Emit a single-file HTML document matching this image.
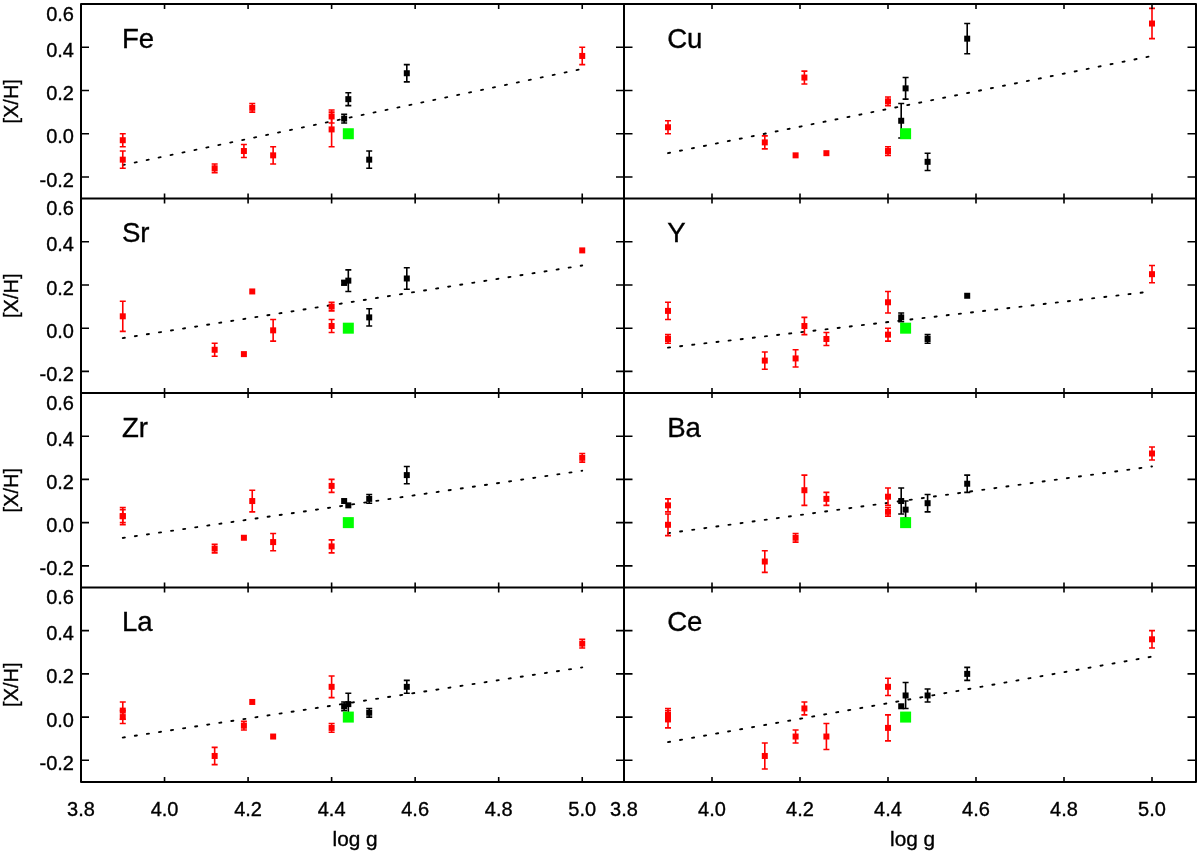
<!DOCTYPE html>
<html><head><meta charset="utf-8"><style>
html,body{margin:0;padding:0;background:#fff;width:1200px;height:854px;overflow:hidden}
svg{display:block;will-change:transform}
text{font-family:"Liberation Sans",sans-serif;fill:#000;stroke:#000;stroke-width:0.35px}
.l{font-size:20px}
.t{font-size:27.6px}
</style></head><body>
<svg width="1200" height="854" viewBox="0 0 1200 854">
<rect width="1200" height="854" fill="#fff"/>
<line x1="122.77" y1="165.06" x2="582.23" y2="68.92" stroke="#000" stroke-width="1.9" stroke-linecap="round" stroke-dasharray="2.1 10.1"/>
<path d="M122.77 133.73V146.7M119.77 133.73h6M119.77 146.7h6" stroke="#f00" stroke-width="1.6" fill="none"/><rect x="119.77" y="137.21" width="6" height="6" fill="#f00"/>
<path d="M122.77 151.02V168.3M119.77 151.02h6M119.77 168.3h6" stroke="#f00" stroke-width="1.6" fill="none"/><rect x="119.77" y="156.66" width="6" height="6" fill="#f00"/>
<path d="M214.66 163.98V172.62M211.66 163.98h6M211.66 172.62h6" stroke="#f00" stroke-width="1.6" fill="none"/><rect x="211.66" y="165.3" width="6" height="6" fill="#f00"/>
<path d="M243.9 144.54V157.5M240.9 144.54h6M240.9 157.5h6" stroke="#f00" stroke-width="1.6" fill="none"/><rect x="240.9" y="148.02" width="6" height="6" fill="#f00"/>
<path d="M252.25 103.49V112.13M249.25 103.49h6M249.25 112.13h6" stroke="#f00" stroke-width="1.6" fill="none"/><rect x="249.25" y="104.81" width="6" height="6" fill="#f00"/>
<path d="M273.14 146.7V163.98M270.14 146.7h6M270.14 163.98h6" stroke="#f00" stroke-width="1.6" fill="none"/><rect x="270.14" y="152.34" width="6" height="6" fill="#f00"/>
<path d="M331.62 109.97V122.93M328.62 109.97h6M328.62 122.93h6" stroke="#f00" stroke-width="1.6" fill="none"/><rect x="328.62" y="113.45" width="6" height="6" fill="#f00"/>
<path d="M331.62 112.13V146.7M328.62 112.13h6M328.62 146.7h6" stroke="#f00" stroke-width="1.6" fill="none"/><rect x="328.62" y="126.41" width="6" height="6" fill="#f00"/>
<path d="M582.23 47.31V64.6M579.23 47.31h6M579.23 64.6h6" stroke="#f00" stroke-width="1.6" fill="none"/><rect x="579.23" y="52.95" width="6" height="6" fill="#f00"/>
<path d="M344.15 114.29V122.93M341.15 114.29h6M341.15 122.93h6" stroke="#000" stroke-width="1.6" fill="none"/><rect x="341.15" y="115.61" width="6" height="6" fill="#000"/>
<path d="M348.32 92.68V105.65M345.32 92.68h6M345.32 105.65h6" stroke="#000" stroke-width="1.6" fill="none"/><rect x="345.32" y="96.16" width="6" height="6" fill="#000"/>
<path d="M369.21 151.02V168.3M366.21 151.02h6M366.21 168.3h6" stroke="#000" stroke-width="1.6" fill="none"/><rect x="366.21" y="156.66" width="6" height="6" fill="#000"/>
<path d="M406.8 64.6V81.88M403.8 64.6h6M403.8 81.88h6" stroke="#000" stroke-width="1.6" fill="none"/><rect x="403.8" y="70.24" width="6" height="6" fill="#000"/>
<rect x="342.82" y="128.23" width="11" height="11" fill="#0f0"/>
<text x="121.97" y="47.9" class="t">Fe</text>
<line x1="668" y1="153.18" x2="1152" y2="55.95" stroke="#000" stroke-width="1.9" stroke-linecap="round" stroke-dasharray="2.1 10.1"/>
<path d="M668 120.77V133.73M665 120.77h6M665 133.73h6" stroke="#f00" stroke-width="1.6" fill="none"/><rect x="665" y="124.25" width="6" height="6" fill="#f00"/>
<path d="M764.8 135.89V148.86M761.8 135.89h6M761.8 148.86h6" stroke="#f00" stroke-width="1.6" fill="none"/><rect x="761.8" y="139.38" width="6" height="6" fill="#f00"/>
<rect x="792.6" y="152.34" width="6" height="6" fill="#f00"/>
<path d="M804.4 71.08V84.04M801.4 71.08h6M801.4 84.04h6" stroke="#f00" stroke-width="1.6" fill="none"/><rect x="801.4" y="74.56" width="6" height="6" fill="#f00"/>
<rect x="823.4" y="150.18" width="6" height="6" fill="#f00"/>
<path d="M888 97V105.65M885 97h6M885 105.65h6" stroke="#f00" stroke-width="1.6" fill="none"/><rect x="885" y="98.32" width="6" height="6" fill="#f00"/>
<path d="M888 146.7V155.34M885 146.7h6M885 155.34h6" stroke="#f00" stroke-width="1.6" fill="none"/><rect x="885" y="148.02" width="6" height="6" fill="#f00"/>
<path d="M1152 8.42V38.67M1149 8.42h6M1149 38.67h6" stroke="#f00" stroke-width="1.6" fill="none"/><rect x="1149" y="20.54" width="6" height="6" fill="#f00"/>
<path d="M901.2 103.49V138.05M898.2 103.49h6M898.2 138.05h6" stroke="#000" stroke-width="1.6" fill="none"/><rect x="898.2" y="117.77" width="6" height="6" fill="#000"/>
<path d="M905.6 77.56V99.16M902.6 77.56h6M902.6 99.16h6" stroke="#000" stroke-width="1.6" fill="none"/><rect x="902.6" y="85.36" width="6" height="6" fill="#000"/>
<path d="M927.6 153.18V170.46M924.6 153.18h6M924.6 170.46h6" stroke="#000" stroke-width="1.6" fill="none"/><rect x="924.6" y="158.82" width="6" height="6" fill="#000"/>
<path d="M967.2 23.54V53.79M964.2 23.54h6M964.2 53.79h6" stroke="#000" stroke-width="1.6" fill="none"/><rect x="964.2" y="35.67" width="6" height="6" fill="#000"/>
<rect x="900.1" y="128.23" width="11" height="11" fill="#0f0"/>
<text x="667.2" y="47.9" class="t">Cu</text>
<line x1="122.77" y1="338.12" x2="582.23" y2="265.53" stroke="#000" stroke-width="1.9" stroke-linecap="round" stroke-dasharray="2.1 10.1"/>
<path d="M122.77 301.18V331.42M119.77 301.18h6M119.77 331.42h6" stroke="#f00" stroke-width="1.6" fill="none"/><rect x="119.77" y="313.3" width="6" height="6" fill="#f00"/>
<path d="M214.66 343.31V356.27M211.66 343.31h6M211.66 356.27h6" stroke="#f00" stroke-width="1.6" fill="none"/><rect x="211.66" y="346.79" width="6" height="6" fill="#f00"/>
<rect x="240.9" y="351.11" width="6" height="6" fill="#f00"/>
<rect x="249.25" y="288.45" width="6" height="6" fill="#f00"/>
<path d="M273.14 319.54V341.15M270.14 319.54h6M270.14 341.15h6" stroke="#f00" stroke-width="1.6" fill="none"/><rect x="270.14" y="327.34" width="6" height="6" fill="#f00"/>
<path d="M331.62 302.26V310.9M328.62 302.26h6M328.62 310.9h6" stroke="#f00" stroke-width="1.6" fill="none"/><rect x="328.62" y="303.58" width="6" height="6" fill="#f00"/>
<path d="M331.62 319.54V332.5M328.62 319.54h6M328.62 332.5h6" stroke="#f00" stroke-width="1.6" fill="none"/><rect x="328.62" y="323.02" width="6" height="6" fill="#f00"/>
<rect x="579.23" y="247.4" width="6" height="6" fill="#f00"/>
<path d="M344.15 280.65V284.97M341.15 280.65h6M341.15 284.97h6" stroke="#000" stroke-width="1.6" fill="none"/><rect x="341.15" y="279.81" width="6" height="6" fill="#000"/>
<path d="M348.32 269.85V291.45M345.32 269.85h6M345.32 291.45h6" stroke="#000" stroke-width="1.6" fill="none"/><rect x="345.32" y="277.65" width="6" height="6" fill="#000"/>
<path d="M369.21 308.74V326.02M366.21 308.74h6M366.21 326.02h6" stroke="#000" stroke-width="1.6" fill="none"/><rect x="366.21" y="314.38" width="6" height="6" fill="#000"/>
<path d="M406.8 267.69V289.29M403.8 267.69h6M403.8 289.29h6" stroke="#000" stroke-width="1.6" fill="none"/><rect x="403.8" y="275.49" width="6" height="6" fill="#000"/>
<rect x="342.82" y="322.68" width="11" height="11" fill="#0f0"/>
<text x="121.97" y="242.35" class="t">Sr</text>
<line x1="668" y1="347.63" x2="1152" y2="291.45" stroke="#000" stroke-width="1.9" stroke-linecap="round" stroke-dasharray="2.1 10.1"/>
<path d="M668 302.26V319.54M665 302.26h6M665 319.54h6" stroke="#f00" stroke-width="1.6" fill="none"/><rect x="665" y="307.9" width="6" height="6" fill="#f00"/>
<path d="M668 334.66V343.31M665 334.66h6M665 343.31h6" stroke="#f00" stroke-width="1.6" fill="none"/><rect x="665" y="335.99" width="6" height="6" fill="#f00"/>
<path d="M764.8 351.95V369.23M761.8 351.95h6M761.8 369.23h6" stroke="#f00" stroke-width="1.6" fill="none"/><rect x="761.8" y="357.59" width="6" height="6" fill="#f00"/>
<path d="M795.6 349.79V367.07M792.6 349.79h6M792.6 367.07h6" stroke="#f00" stroke-width="1.6" fill="none"/><rect x="792.6" y="355.43" width="6" height="6" fill="#f00"/>
<path d="M804.4 317.38V334.67M801.4 317.38h6M801.4 334.67h6" stroke="#f00" stroke-width="1.6" fill="none"/><rect x="801.4" y="323.02" width="6" height="6" fill="#f00"/>
<path d="M826.4 332.5V345.47M823.4 332.5h6M823.4 345.47h6" stroke="#f00" stroke-width="1.6" fill="none"/><rect x="823.4" y="335.99" width="6" height="6" fill="#f00"/>
<path d="M888 291.45V313.06M885 291.45h6M885 313.06h6" stroke="#f00" stroke-width="1.6" fill="none"/><rect x="885" y="299.26" width="6" height="6" fill="#f00"/>
<path d="M888 328.18V341.15M885 328.18h6M885 341.15h6" stroke="#f00" stroke-width="1.6" fill="none"/><rect x="885" y="331.66" width="6" height="6" fill="#f00"/>
<path d="M1152 265.53V282.81M1149 265.53h6M1149 282.81h6" stroke="#f00" stroke-width="1.6" fill="none"/><rect x="1149" y="271.17" width="6" height="6" fill="#f00"/>
<path d="M901.2 313.06V321.7M898.2 313.06h6M898.2 321.7h6" stroke="#000" stroke-width="1.6" fill="none"/><rect x="898.2" y="314.38" width="6" height="6" fill="#000"/>
<rect x="902.6" y="325.18" width="6" height="6" fill="#000"/>
<path d="M927.6 334.66V343.31M924.6 334.66h6M924.6 343.31h6" stroke="#000" stroke-width="1.6" fill="none"/><rect x="924.6" y="335.99" width="6" height="6" fill="#000"/>
<rect x="964.2" y="292.77" width="6" height="6" fill="#000"/>
<rect x="900.1" y="322.68" width="11" height="11" fill="#0f0"/>
<text x="667.2" y="242.35" class="t">Y</text>
<line x1="122.77" y1="537.97" x2="582.23" y2="470.78" stroke="#000" stroke-width="1.9" stroke-linecap="round" stroke-dasharray="2.1 10.1"/>
<path d="M122.77 509.67V522.63M119.77 509.67h6M119.77 522.63h6" stroke="#f00" stroke-width="1.6" fill="none"/><rect x="119.77" y="513.15" width="6" height="6" fill="#f00"/>
<path d="M122.77 507.51V524.79M119.77 507.51h6M119.77 524.79h6" stroke="#f00" stroke-width="1.6" fill="none"/><rect x="119.77" y="513.15" width="6" height="6" fill="#f00"/>
<path d="M214.66 544.24V552.88M211.66 544.24h6M211.66 552.88h6" stroke="#f00" stroke-width="1.6" fill="none"/><rect x="211.66" y="545.56" width="6" height="6" fill="#f00"/>
<rect x="240.9" y="534.76" width="6" height="6" fill="#f00"/>
<path d="M252.25 490.23V511.83M249.25 490.23h6M249.25 511.83h6" stroke="#f00" stroke-width="1.6" fill="none"/><rect x="249.25" y="498.03" width="6" height="6" fill="#f00"/>
<path d="M273.14 533.44V550.72M270.14 533.44h6M270.14 550.72h6" stroke="#f00" stroke-width="1.6" fill="none"/><rect x="270.14" y="539.08" width="6" height="6" fill="#f00"/>
<path d="M331.62 479.42V492.39M328.62 479.42h6M328.62 492.39h6" stroke="#f00" stroke-width="1.6" fill="none"/><rect x="328.62" y="482.9" width="6" height="6" fill="#f00"/>
<path d="M331.62 539.92V552.88M328.62 539.92h6M328.62 552.88h6" stroke="#f00" stroke-width="1.6" fill="none"/><rect x="328.62" y="543.4" width="6" height="6" fill="#f00"/>
<path d="M582.23 453.5V462.14M579.23 453.5h6M579.23 462.14h6" stroke="#f00" stroke-width="1.6" fill="none"/><rect x="579.23" y="454.82" width="6" height="6" fill="#f00"/>
<rect x="341.15" y="498.03" width="6" height="6" fill="#000"/>
<rect x="345.32" y="502.35" width="6" height="6" fill="#000"/>
<path d="M369.21 494.55V503.19M366.21 494.55h6M366.21 503.19h6" stroke="#000" stroke-width="1.6" fill="none"/><rect x="366.21" y="495.87" width="6" height="6" fill="#000"/>
<path d="M406.8 466.46V483.74M403.8 466.46h6M403.8 483.74h6" stroke="#000" stroke-width="1.6" fill="none"/><rect x="403.8" y="472.1" width="6" height="6" fill="#000"/>
<rect x="342.82" y="517.13" width="11" height="11" fill="#0f0"/>
<text x="121.97" y="436.8" class="t">Zr</text>
<line x1="668" y1="533.22" x2="1152" y2="466.46" stroke="#000" stroke-width="1.9" stroke-linecap="round" stroke-dasharray="2.1 10.1"/>
<path d="M668 498.87V511.83M665 498.87h6M665 511.83h6" stroke="#f00" stroke-width="1.6" fill="none"/><rect x="665" y="502.35" width="6" height="6" fill="#f00"/>
<path d="M668 513.99V535.6M665 513.99h6M665 535.6h6" stroke="#f00" stroke-width="1.6" fill="none"/><rect x="665" y="521.79" width="6" height="6" fill="#f00"/>
<path d="M764.8 550.72V572.33M761.8 550.72h6M761.8 572.33h6" stroke="#f00" stroke-width="1.6" fill="none"/><rect x="761.8" y="558.52" width="6" height="6" fill="#f00"/>
<path d="M795.6 533.44V542.08M792.6 533.44h6M792.6 542.08h6" stroke="#f00" stroke-width="1.6" fill="none"/><rect x="792.6" y="534.76" width="6" height="6" fill="#f00"/>
<path d="M804.4 475.1V505.35M801.4 475.1h6M801.4 505.35h6" stroke="#f00" stroke-width="1.6" fill="none"/><rect x="801.4" y="487.22" width="6" height="6" fill="#f00"/>
<path d="M826.4 492.39V505.35M823.4 492.39h6M823.4 505.35h6" stroke="#f00" stroke-width="1.6" fill="none"/><rect x="823.4" y="495.87" width="6" height="6" fill="#f00"/>
<path d="M888 488.06V505.35M885 488.06h6M885 505.35h6" stroke="#f00" stroke-width="1.6" fill="none"/><rect x="885" y="493.71" width="6" height="6" fill="#f00"/>
<path d="M888 507.51V516.15M885 507.51h6M885 516.15h6" stroke="#f00" stroke-width="1.6" fill="none"/><rect x="885" y="508.83" width="6" height="6" fill="#f00"/>
<path d="M1152 447.01V459.98M1149 447.01h6M1149 459.98h6" stroke="#f00" stroke-width="1.6" fill="none"/><rect x="1149" y="450.5" width="6" height="6" fill="#f00"/>
<path d="M901.2 488.06V513.99M898.2 488.06h6M898.2 513.99h6" stroke="#000" stroke-width="1.6" fill="none"/><rect x="898.2" y="498.03" width="6" height="6" fill="#000"/>
<path d="M905.6 501.03V518.31M902.6 501.03h6M902.6 518.31h6" stroke="#000" stroke-width="1.6" fill="none"/><rect x="902.6" y="506.67" width="6" height="6" fill="#000"/>
<path d="M927.6 494.55V511.83M924.6 494.55h6M924.6 511.83h6" stroke="#000" stroke-width="1.6" fill="none"/><rect x="924.6" y="500.19" width="6" height="6" fill="#000"/>
<path d="M967.2 475.1V492.39M964.2 475.1h6M964.2 492.39h6" stroke="#000" stroke-width="1.6" fill="none"/><rect x="964.2" y="480.74" width="6" height="6" fill="#000"/>
<rect x="900.1" y="517.13" width="11" height="11" fill="#0f0"/>
<text x="667.2" y="436.8" class="t">Ba</text>
<line x1="122.77" y1="737.61" x2="582.23" y2="667.39" stroke="#000" stroke-width="1.9" stroke-linecap="round" stroke-dasharray="2.1 10.1"/>
<path d="M122.77 701.96V719.24M119.77 701.96h6M119.77 719.24h6" stroke="#f00" stroke-width="1.6" fill="none"/><rect x="119.77" y="707.6" width="6" height="6" fill="#f00"/>
<path d="M122.77 710.6V723.57M119.77 710.6h6M119.77 723.57h6" stroke="#f00" stroke-width="1.6" fill="none"/><rect x="119.77" y="714.08" width="6" height="6" fill="#f00"/>
<path d="M214.66 747.33V764.62M211.66 747.33h6M211.66 764.62h6" stroke="#f00" stroke-width="1.6" fill="none"/><rect x="211.66" y="752.97" width="6" height="6" fill="#f00"/>
<path d="M243.9 721.4V730.05M240.9 721.4h6M240.9 730.05h6" stroke="#f00" stroke-width="1.6" fill="none"/><rect x="240.9" y="722.73" width="6" height="6" fill="#f00"/>
<rect x="249.25" y="698.96" width="6" height="6" fill="#f00"/>
<rect x="270.14" y="733.53" width="6" height="6" fill="#f00"/>
<path d="M331.62 676.03V697.64M328.62 676.03h6M328.62 697.64h6" stroke="#f00" stroke-width="1.6" fill="none"/><rect x="328.62" y="683.84" width="6" height="6" fill="#f00"/>
<path d="M331.62 723.57V732.21M328.62 723.57h6M328.62 732.21h6" stroke="#f00" stroke-width="1.6" fill="none"/><rect x="328.62" y="724.89" width="6" height="6" fill="#f00"/>
<path d="M582.23 639.3V647.95M579.23 639.3h6M579.23 647.95h6" stroke="#f00" stroke-width="1.6" fill="none"/><rect x="579.23" y="640.62" width="6" height="6" fill="#f00"/>
<path d="M344.15 701.96V710.6M341.15 701.96h6M341.15 710.6h6" stroke="#000" stroke-width="1.6" fill="none"/><rect x="341.15" y="703.28" width="6" height="6" fill="#000"/>
<path d="M348.32 693.32V714.92M345.32 693.32h6M345.32 714.92h6" stroke="#000" stroke-width="1.6" fill="none"/><rect x="345.32" y="701.12" width="6" height="6" fill="#000"/>
<path d="M369.21 708.44V717.08M366.21 708.44h6M366.21 717.08h6" stroke="#000" stroke-width="1.6" fill="none"/><rect x="366.21" y="709.76" width="6" height="6" fill="#000"/>
<path d="M406.8 680.35V693.32M403.8 680.35h6M403.8 693.32h6" stroke="#000" stroke-width="1.6" fill="none"/><rect x="403.8" y="683.84" width="6" height="6" fill="#000"/>
<rect x="342.82" y="711.58" width="11" height="11" fill="#0f0"/>
<text x="121.97" y="631.25" class="t">La</text>
<line x1="668" y1="742.15" x2="1152" y2="656.59" stroke="#000" stroke-width="1.9" stroke-linecap="round" stroke-dasharray="2.1 10.1"/>
<path d="M668 708.44V721.4M665 708.44h6M665 721.4h6" stroke="#f00" stroke-width="1.6" fill="none"/><rect x="665" y="711.92" width="6" height="6" fill="#f00"/>
<path d="M668 710.6V727.89M665 710.6h6M665 727.89h6" stroke="#f00" stroke-width="1.6" fill="none"/><rect x="665" y="716.24" width="6" height="6" fill="#f00"/>
<path d="M764.8 743.01V768.94M761.8 743.01h6M761.8 768.94h6" stroke="#f00" stroke-width="1.6" fill="none"/><rect x="761.8" y="752.97" width="6" height="6" fill="#f00"/>
<path d="M795.6 730.05V743.01M792.6 730.05h6M792.6 743.01h6" stroke="#f00" stroke-width="1.6" fill="none"/><rect x="792.6" y="733.53" width="6" height="6" fill="#f00"/>
<path d="M804.4 701.96V714.92M801.4 701.96h6M801.4 714.92h6" stroke="#f00" stroke-width="1.6" fill="none"/><rect x="801.4" y="705.44" width="6" height="6" fill="#f00"/>
<path d="M826.4 723.56V749.49M823.4 723.56h6M823.4 749.49h6" stroke="#f00" stroke-width="1.6" fill="none"/><rect x="823.4" y="733.53" width="6" height="6" fill="#f00"/>
<path d="M888 678.19V695.48M885 678.19h6M885 695.48h6" stroke="#f00" stroke-width="1.6" fill="none"/><rect x="885" y="683.84" width="6" height="6" fill="#f00"/>
<path d="M888 714.92V740.85M885 714.92h6M885 740.85h6" stroke="#f00" stroke-width="1.6" fill="none"/><rect x="885" y="724.89" width="6" height="6" fill="#f00"/>
<path d="M1152 630.66V647.95M1149 630.66h6M1149 647.95h6" stroke="#f00" stroke-width="1.6" fill="none"/><rect x="1149" y="636.3" width="6" height="6" fill="#f00"/>
<rect x="898.2" y="703.28" width="6" height="6" fill="#000"/>
<path d="M905.6 682.51V708.44M902.6 682.51h6M902.6 708.44h6" stroke="#000" stroke-width="1.6" fill="none"/><rect x="902.6" y="692.48" width="6" height="6" fill="#000"/>
<path d="M927.6 689V701.96M924.6 689h6M924.6 701.96h6" stroke="#000" stroke-width="1.6" fill="none"/><rect x="924.6" y="692.48" width="6" height="6" fill="#000"/>
<path d="M967.2 667.39V680.35M964.2 667.39h6M964.2 680.35h6" stroke="#000" stroke-width="1.6" fill="none"/><rect x="964.2" y="670.87" width="6" height="6" fill="#000"/>
<rect x="900.1" y="711.58" width="11" height="11" fill="#0f0"/>
<text x="667.2" y="631.25" class="t">Ce</text>
<path d="M81 4.1H1196V781.9H81ZM624 4.1V781.9M81 198.55H1196M81 393H1196M81 587.45H1196" stroke="#000" stroke-width="2" fill="none" stroke-linejoin="round"/>
<path d="M81 176.94h8M624 176.94h-8M81 133.73h8M624 133.73h-8M81 90.52h8M624 90.52h-8M81 47.31h8M624 47.31h-8M164.54 4.1v5M164.54 198.55v-5M248.08 4.1v5M248.08 198.55v-5M331.62 4.1v5M331.62 198.55v-5M415.15 4.1v5M415.15 198.55v-5M498.69 4.1v5M498.69 198.55v-5M582.23 4.1v5M582.23 198.55v-5M624 176.94h8.5M1196 176.94h-8.5M624 133.73h8.5M1196 133.73h-8.5M624 90.52h8.5M1196 90.52h-8.5M624 47.31h8.5M1196 47.31h-8.5M712 4.1v5M712 198.55v-5M800 4.1v5M800 198.55v-5M888 4.1v5M888 198.55v-5M976 4.1v5M976 198.55v-5M1064 4.1v5M1064 198.55v-5M1152 4.1v5M1152 198.55v-5M81 371.39h8M624 371.39h-8M81 328.18h8M624 328.18h-8M81 284.97h8M624 284.97h-8M81 241.76h8M624 241.76h-8M164.54 198.55v5M164.54 393v-5M248.08 198.55v5M248.08 393v-5M331.62 198.55v5M331.62 393v-5M415.15 198.55v5M415.15 393v-5M498.69 198.55v5M498.69 393v-5M582.23 198.55v5M582.23 393v-5M624 371.39h8.5M1196 371.39h-8.5M624 328.18h8.5M1196 328.18h-8.5M624 284.97h8.5M1196 284.97h-8.5M624 241.76h8.5M1196 241.76h-8.5M712 198.55v5M712 393v-5M800 198.55v5M800 393v-5M888 198.55v5M888 393v-5M976 198.55v5M976 393v-5M1064 198.55v5M1064 393v-5M1152 198.55v5M1152 393v-5M81 565.84h8M624 565.84h-8M81 522.63h8M624 522.63h-8M81 479.42h8M624 479.42h-8M81 436.21h8M624 436.21h-8M164.54 393v5M164.54 587.45v-5M248.08 393v5M248.08 587.45v-5M331.62 393v5M331.62 587.45v-5M415.15 393v5M415.15 587.45v-5M498.69 393v5M498.69 587.45v-5M582.23 393v5M582.23 587.45v-5M624 565.84h8.5M1196 565.84h-8.5M624 522.63h8.5M1196 522.63h-8.5M624 479.42h8.5M1196 479.42h-8.5M624 436.21h8.5M1196 436.21h-8.5M712 393v5M712 587.45v-5M800 393v5M800 587.45v-5M888 393v5M888 587.45v-5M976 393v5M976 587.45v-5M1064 393v5M1064 587.45v-5M1152 393v5M1152 587.45v-5M81 760.29h8M624 760.29h-8M81 717.08h8M624 717.08h-8M81 673.87h8M624 673.87h-8M81 630.66h8M624 630.66h-8M164.54 587.45v5M164.54 781.9v-5M248.08 587.45v5M248.08 781.9v-5M331.62 587.45v5M331.62 781.9v-5M415.15 587.45v5M415.15 781.9v-5M498.69 587.45v5M498.69 781.9v-5M582.23 587.45v5M582.23 781.9v-5M624 760.29h8.5M1196 760.29h-8.5M624 717.08h8.5M1196 717.08h-8.5M624 673.87h8.5M1196 673.87h-8.5M624 630.66h8.5M1196 630.66h-8.5M712 587.45v5M712 781.9v-5M800 587.45v5M800 781.9v-5M888 587.45v5M888 781.9v-5M976 587.45v5M976 781.9v-5M1064 587.45v5M1064 781.9v-5M1152 587.45v5M1152 781.9v-5" stroke="#000" stroke-width="1.6" fill="none"/>
<text x="74" y="20.6" class="l" text-anchor="end">0.6</text>
<text x="74" y="56.91" class="l" text-anchor="end">0.4</text>
<text x="74" y="100.12" class="l" text-anchor="end">0.2</text>
<text x="74" y="143.33" class="l" text-anchor="end">0.0</text>
<text x="74" y="186.54" class="l" text-anchor="end">-0.2</text>
<text transform="translate(17.8 101.32) rotate(-90)" class="l" text-anchor="middle">[X/H]</text>
<text x="74" y="215.05" class="l" text-anchor="end">0.6</text>
<text x="74" y="251.36" class="l" text-anchor="end">0.4</text>
<text x="74" y="294.57" class="l" text-anchor="end">0.2</text>
<text x="74" y="337.78" class="l" text-anchor="end">0.0</text>
<text x="74" y="380.99" class="l" text-anchor="end">-0.2</text>
<text transform="translate(17.8 295.77) rotate(-90)" class="l" text-anchor="middle">[X/H]</text>
<text x="74" y="409.5" class="l" text-anchor="end">0.6</text>
<text x="74" y="445.81" class="l" text-anchor="end">0.4</text>
<text x="74" y="489.02" class="l" text-anchor="end">0.2</text>
<text x="74" y="532.23" class="l" text-anchor="end">0.0</text>
<text x="74" y="575.44" class="l" text-anchor="end">-0.2</text>
<text transform="translate(17.8 490.23) rotate(-90)" class="l" text-anchor="middle">[X/H]</text>
<text x="74" y="603.95" class="l" text-anchor="end">0.6</text>
<text x="74" y="640.26" class="l" text-anchor="end">0.4</text>
<text x="74" y="683.47" class="l" text-anchor="end">0.2</text>
<text x="74" y="726.68" class="l" text-anchor="end">0.0</text>
<text x="74" y="769.89" class="l" text-anchor="end">-0.2</text>
<text transform="translate(17.8 684.68) rotate(-90)" class="l" text-anchor="middle">[X/H]</text>
<text x="81" y="816.3" class="l" text-anchor="middle">3.8</text>
<text x="164.54" y="816.3" class="l" text-anchor="middle">4.0</text>
<text x="248.08" y="816.3" class="l" text-anchor="middle">4.2</text>
<text x="331.62" y="816.3" class="l" text-anchor="middle">4.4</text>
<text x="415.15" y="816.3" class="l" text-anchor="middle">4.6</text>
<text x="498.69" y="816.3" class="l" text-anchor="middle">4.8</text>
<text x="582.23" y="816.3" class="l" text-anchor="middle">5.0</text>
<text transform="translate(355.1 846.4) scale(1.04 1)" class="l" text-anchor="middle">log g</text>
<text x="624" y="816.3" class="l" text-anchor="middle">3.8</text>
<text x="712" y="816.3" class="l" text-anchor="middle">4.0</text>
<text x="800" y="816.3" class="l" text-anchor="middle">4.2</text>
<text x="888" y="816.3" class="l" text-anchor="middle">4.4</text>
<text x="976" y="816.3" class="l" text-anchor="middle">4.6</text>
<text x="1064" y="816.3" class="l" text-anchor="middle">4.8</text>
<text x="1152" y="816.3" class="l" text-anchor="middle">5.0</text>
<text transform="translate(912.6 846.4) scale(1.04 1)" class="l" text-anchor="middle">log g</text>
</svg>
</body></html>
